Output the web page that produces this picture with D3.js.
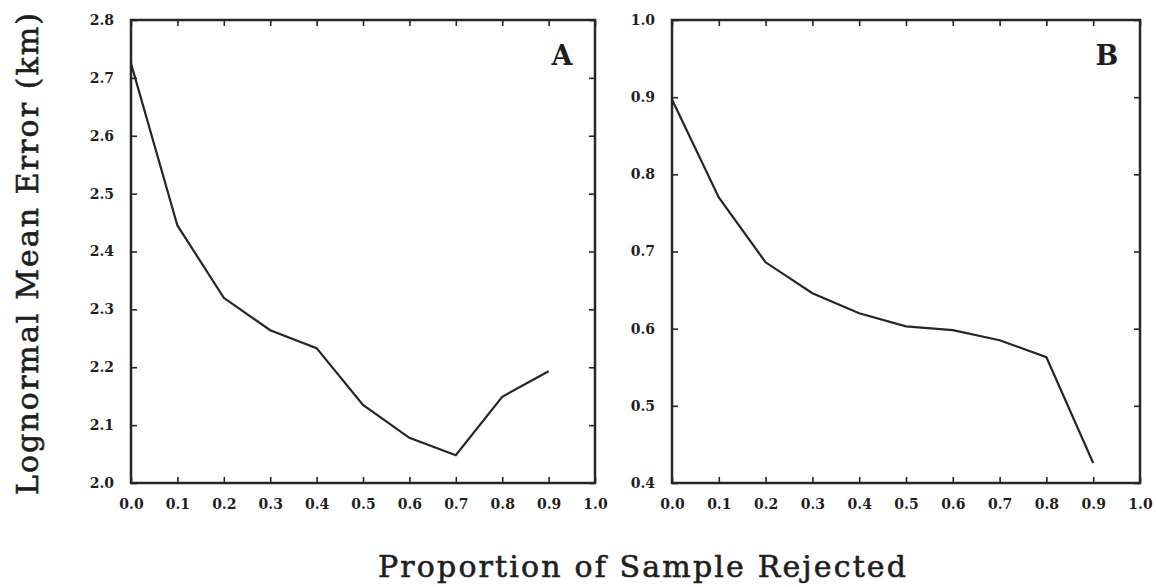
<!DOCTYPE html>
<html>
<head>
<meta charset="utf-8">
<script src="https://cdn.jsdelivr.net/npm/d3@7"></script>
<style>
  body { margin: 0; background: #fff; }
  svg { display: block; }
  .tick text { font-family: "DejaVu Serif", "Liberation Serif", serif; font-weight: bold; fill: #1e1e1e; }
</style>
</head>
<body>
<svg id="chart" width="1156" height="587"></svg>
<script>
// proportion of sample rejected
const proportions = [0.0, 0.1, 0.2, 0.3, 0.4, 0.5, 0.6, 0.7, 0.8, 0.9];
// panel A: lognormal mean error (km)
const errorA = [2.725, 2.445, 2.32, 2.264, 2.233, 2.135, 2.078, 2.048, 2.149, 2.193];
// panel B
const errorB = [0.897, 0.770, 0.686, 0.646, 0.620, 0.603, 0.598, 0.585, 0.563, 0.426];

const xTicks = [0, 0.1, 0.2, 0.3, 0.4, 0.5, 0.6, 0.7, 0.8, 0.9, 1.0];
const yTicksA = [2.0, 2.1, 2.2, 2.3, 2.4, 2.5, 2.6, 2.7, 2.8];
const yTicksB = [0.4, 0.5, 0.6, 0.7, 0.8, 0.9, 1.0];

const svg = d3.select("#chart");
const plotTop = 20, plotBottom = 483;
const fmt = d3.format(".1f");
const ink = "#262626";
const serif = "DejaVu Serif, Liberation Serif, serif";

function drawPanel(left, right, values, yDomain, yTicks, letter) {
    const x = d3.scaleLinear().domain([0, 1]).range([left, right]);
    const y = d3.scaleLinear().domain(yDomain).range([plotBottom, plotTop]);
    const g = svg.append("g");

    const styleAxis = sel => {
        sel.select(".domain").remove();
        sel.selectAll(".tick line").attr("stroke", ink).attr("stroke-width", 1.6);
    };

    g.append("g").attr("transform", `translate(0,${plotBottom})`)
        .call(d3.axisBottom(x).tickValues(xTicks).tickFormat(fmt).tickSize(-6).tickPadding(16))
        .call(styleAxis)
        .selectAll("text").style("font-size", "14px");
    g.append("g").attr("transform", `translate(0,${plotTop})`)
        .call(d3.axisTop(x).tickValues(xTicks).tickFormat("").tickSize(-6))
        .call(styleAxis);
    g.append("g").attr("transform", `translate(${left},0)`)
        .call(d3.axisLeft(y).tickValues(yTicks).tickFormat(fmt).tickSize(-6).tickPadding(17))
        .call(styleAxis)
        .selectAll("text").style("font-size", "14px");
    g.append("g").attr("transform", `translate(${right},0)`)
        .call(d3.axisRight(y).tickValues(yTicks).tickFormat("").tickSize(-6))
        .call(styleAxis);

    g.append("rect")
        .attr("x", left).attr("y", plotTop)
        .attr("width", right - left).attr("height", plotBottom - plotTop)
        .attr("fill", "none").attr("stroke", ink).attr("stroke-width", 2.5);

    const line = d3.line().x((d, i) => x(proportions[i])).y(d => y(d));
    g.append("path").datum(values)
        .attr("d", line)
        .attr("fill", "none").attr("stroke", ink).attr("stroke-width", 2.2);

    g.append("text")
        .attr("x", right - 33).attr("y", plotTop + 45)
        .attr("text-anchor", "middle")
        .style("font-family", serif)
        .style("font-weight", "bold")
        .style("font-size", "27px")
        .attr("fill", "#1e1e1e")
        .text(letter);
}

drawPanel(131, 595, errorA, [2.0, 2.8], yTicksA, "A");
drawPanel(672, 1140, errorB, [0.4, 1.0], yTicksB, "B");

svg.append("text")
    .attr("transform", "translate(38,254) rotate(-90)")
    .attr("text-anchor", "middle")
    .attr("textLength", 482)
    .attr("lengthAdjust", "spacing")
    .style("font-family", serif)
    .style("font-size", "30px")
    .attr("fill", "#1e1e1e")
    .attr("stroke", "#1e1e1e").attr("stroke-width", 0.6)
    .text("Lognormal Mean Error (km)");

svg.append("text")
    .attr("x", 642).attr("y", 577)
    .attr("text-anchor", "middle")
    .attr("textLength", 528)
    .attr("lengthAdjust", "spacing")
    .style("font-family", serif)
    .style("font-size", "30px")
    .attr("fill", "#1e1e1e")
    .attr("stroke", "#1e1e1e").attr("stroke-width", 0.6)
    .text("Proportion of Sample Rejected");
</script>
</body>
</html>
